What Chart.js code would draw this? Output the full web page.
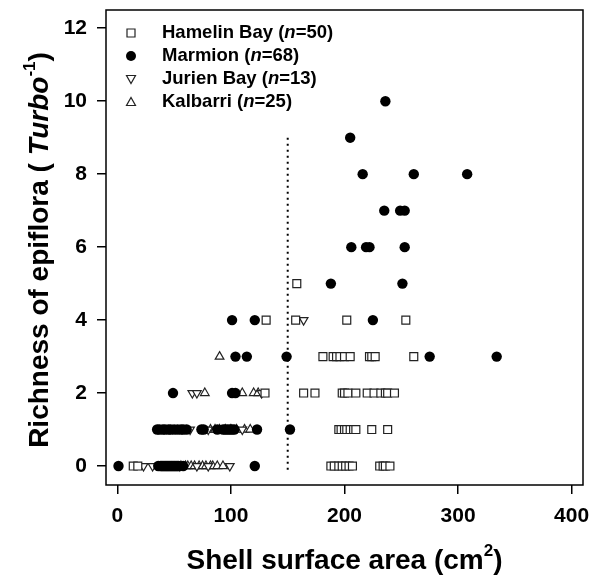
<!DOCTYPE html>
<html>
<head>
<meta charset="utf-8">
<script src="https://cdn.jsdelivr.net/npm/chart.js@4/dist/chart.umd.min.js"></script>
<style>
  html, body { margin: 0; padding: 0; background: #fff; }
  #wrap { width: 592px; height: 585px; position: relative; }
</style>
</head>
<body>
<div id="wrap"><canvas id="c" width="592" height="585"></canvas></div>
<script>
// ---- data ----
const xTicks = [0, 100, 200, 300, 400];
const yTicks = [0, 2, 4, 6, 8, 10, 12];

const seriesNames = ['Hamelin Bay', 'Marmion', 'Jurien Bay', 'Kalbarri'];
const seriesN = [50, 68, 13, 25];

const hamelinX = [14,18,188,191,195,198,201,204,207,231,234,236,240,
                  195,197,200,202,205,208,210,224,238,
                  130,164,174,198,200,203,210,220,226,232,236,238,244,
                  181,190,193,196,200,205,222,224,227,261,
                  131,157,202,254,
                  158];
const hamelinY = [0,0,0,0,0,0,0,0,0,0,0,0,0,
                  1,1,1,1,1,1,1,1,1,
                  2,2,2,2,2,2,2,2,2,2,2,2,2,
                  3,3,3,3,3,3,3,3,3,3,
                  4,4,4,4,
                  5];

const marmionX = [236,
                  205,
                  216,261,308,
                  235,249,253,
                  206,219,222,253,
                  188,251,
                  101,121,225,
                  104,114,149,275,334,
                  49,101,104,
                  35,37,40,42,45,47,50,53,56,58,61,74,76,88,93,95,97,99,101,103,123,152,
                  1,36,38,39,40,41,42,43,44,45,46,47,48,49,50,51,52,53,54,58,121];
const marmionY = [10,
                  9,
                  8,8,8,
                  7,7,7,
                  6,6,6,6,
                  5,5,
                  4,4,4,
                  3,3,3,3,3,
                  2,2,2,
                  1,1,1,1,1,1,1,1,1,1,1,1,1,1,1,1,1,1,1,1,1,1,
                  0,0,0,0,0,0,0,0,0,0,0,0,0,0,0,0,0,0,0,0,0];

const jurienX = [23,31,55,70,80,99, 64,80,110, 66,70,127, 164];
const jurienY = [0,0,0,0,0,0, 1,1,1, 2,2,2, 4];

const kalbarriX = [90, 77,110,120,124, 82,86,90,95,100,105,112,117,
                   56,60,62,65,68,72,75,78,82,84,88,93];
const kalbarriY = [3, 2,2,2,2, 1,1,1,1,1,1,1,1,
                   0,0,0,0,0,0,0,0,0,0,0,0];

const thresholdX = [150, 150];
const thresholdY = [-0.1, 9];

// ---- build ----
const pts = (xs, ys) => xs.map((x, i) => ({x: x, y: ys[i]}));
const FONT = '"Liberation Sans", Arial, sans-serif';

const frameAndTitles = {
  id: 'frameAndTitles',
  afterDraw(chart) {
    const ctx = chart.ctx;
    const a = chart.chartArea;
    ctx.save();
    ctx.strokeStyle = '#000';
    ctx.lineWidth = 1.5;
    ctx.strokeRect(a.left, a.top, a.right - a.left, a.bottom - a.top);

    const drawParts = (parts, cx, cy) => {
      let total = 0;
      parts.forEach(p => { ctx.font = p.font; p.w = ctx.measureText(p.t).width; total += p.w; });
      let x = cx - total / 2;
      ctx.textBaseline = 'middle';
      ctx.textAlign = 'left';
      parts.forEach(p => { ctx.font = p.font; ctx.fillText(p.t, x, cy + (p.dy || 0)); x += p.w; });
    };
    ctx.fillStyle = '#000';
    // X title
    drawParts([
      {t: 'Shell surface area (cm', font: 'bold 28px ' + FONT},
      {t: '2', font: 'bold 17px ' + FONT, dy: -10},
      {t: ')', font: 'bold 28px ' + FONT}
    ], (a.left + a.right) / 2, 561);

    // Y title
    ctx.save();
    ctx.translate(40, 250);
    ctx.rotate(-Math.PI / 2);
    drawParts([
      {t: 'Richness of epiflora (', font: 'bold 28px ' + FONT},
      {t: ' Turbo', font: 'italic bold 28px ' + FONT},
      {t: '-1', font: 'bold 17px ' + FONT, dy: -10},
      {t: ')', font: 'bold 28px ' + FONT}
    ], 0, 0);
    ctx.restore();

    // Legend
    const lx = 131, tx = 162, ly = [33, 56, 79, 102];
    ctx.lineWidth = 1.2;
    ctx.strokeStyle = '#222';
    seriesNames.forEach((name, i) => {
      const y = ly[i];
      ctx.beginPath();
      if (i === 0) {
        ctx.rect(lx - 4, y - 4, 8, 8);
        ctx.fillStyle = '#fff'; ctx.fill(); ctx.stroke();
      } else if (i === 1) {
        ctx.arc(lx, y, 5, 0, Math.PI * 2);
        ctx.fillStyle = '#000'; ctx.fill();
      } else if (i === 2) {
        ctx.moveTo(lx - 4.5, y - 3.5); ctx.lineTo(lx + 4.5, y - 3.5); ctx.lineTo(lx, y + 4.5); ctx.closePath();
        ctx.fillStyle = '#fff'; ctx.fill(); ctx.stroke();
      } else {
        ctx.moveTo(lx - 4.5, y + 3.5); ctx.lineTo(lx + 4.5, y + 3.5); ctx.lineTo(lx, y - 4.5); ctx.closePath();
        ctx.fillStyle = '#fff'; ctx.fill(); ctx.stroke();
      }
      ctx.fillStyle = '#000';
      ctx.textBaseline = 'middle';
      ctx.textAlign = 'left';
      let x = tx;
      const parts = [
        {t: name + ' (', font: 'bold 18.5px ' + FONT},
        {t: 'n', font: 'italic bold 18.5px ' + FONT},
        {t: '=' + seriesN[i] + ')', font: 'bold 18.5px ' + FONT}
      ];
      parts.forEach(p => { ctx.font = p.font; ctx.fillText(p.t, x, y); x += ctx.measureText(p.t).width; });
    });
    ctx.restore();
  }
};

const zeroPad = s => { s.paddingTop = 0; s.paddingBottom = 0; s.paddingLeft = 0; s.paddingRight = 0; };

new Chart(document.getElementById('c'), {
  type: 'scatter',
  data: {
    datasets: [
      {
        label: 'threshold', type: 'line', data: pts(thresholdX, thresholdY),
        borderColor: '#000', borderWidth: 2, borderDash: [2, 4], pointRadius: 0, fill: false, order: 5
      },
      {
        label: seriesNames[0], data: pts(hamelinX, hamelinY),
        pointStyle: 'rect', pointRadius: 5.6, backgroundColor: '#fff', borderColor: '#222', borderWidth: 1.2, order: 1
      },
      {
        label: seriesNames[1], data: pts(marmionX, marmionY),
        pointStyle: 'circle', pointRadius: 5.2, backgroundColor: '#000', borderColor: '#000', borderWidth: 0, order: 2
      },
      {
        label: seriesNames[2], data: pts(jurienX, jurienY),
        pointStyle: 'triangle', rotation: 180, pointRadius: 5, backgroundColor: '#fff', borderColor: '#222', borderWidth: 1.2, order: 3
      },
      {
        label: seriesNames[3], data: pts(kalbarriX, kalbarriY),
        pointStyle: 'triangle', pointRadius: 5, backgroundColor: '#fff', borderColor: '#222', borderWidth: 1.2, order: 4
      }
    ]
  },
  options: {
    responsive: false,
    animation: false,
    events: [],
    layout: { padding: { left: 0, top: 10, right: 9, bottom: 0 } },
    plugins: { legend: { display: false }, tooltip: { enabled: false } },
    scales: {
      x: {
        type: 'linear', min: -10, max: 410,
        afterFit(s) { s.height = 100; zeroPad(s); },
        afterBuildTicks(s) { s.ticks = xTicks.map(v => ({value: v})); },
        ticks: { color: '#000', padding: 10, font: { family: FONT, size: 21, weight: 'bold' }, maxRotation: 0 },
        grid: { drawOnChartArea: false, tickLength: 9, color: '#000', lineWidth: 1.5 },
        border: { display: false }
      },
      y: {
        type: 'linear', min: -0.52, max: 12.5,
        afterFit(s) { s.width = 106; zeroPad(s); },
        afterBuildTicks(s) { s.ticks = yTicks.map(v => ({value: v})); },
        ticks: { color: '#000', padding: 10, font: { family: FONT, size: 21, weight: 'bold' } },
        grid: { drawOnChartArea: false, tickLength: 9, color: '#000', lineWidth: 1.5 },
        border: { display: false }
      }
    }
  },
  plugins: [frameAndTitles]
});
</script>
</body>
</html>
